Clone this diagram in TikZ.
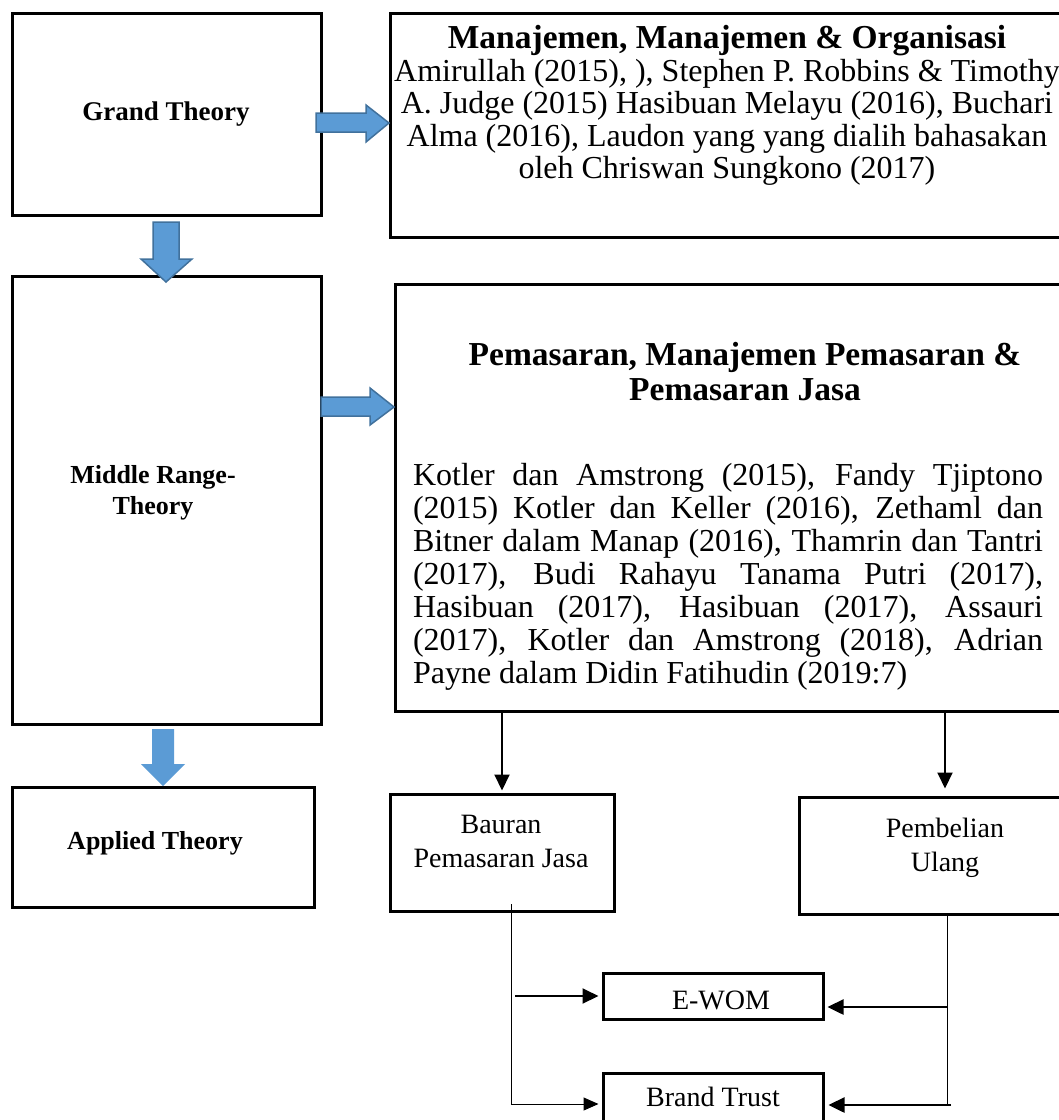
\documentclass[tikz,border=0pt]{standalone}
\usepackage{fontspec}
\setmainfont{Liberation Serif}
\usetikzlibrary{arrows.meta}
\tikzset{every picture/.style={line width=0.75pt}}
\definecolor{arrowblue}{RGB}{91,155,213}
\definecolor{arrowedge}{RGB}{65,113,156}

\begin{document}
\begin{tikzpicture}[x=1pt,y=1pt,yscale=-1,xscale=1,
  box/.style={draw, line width=3pt, rectangle, inner sep=0pt},
  blockarrow/.style={fill=arrowblue, draw=arrowedge, line width=1.5pt, line join=miter},
  link/.style={line width=2pt, -{Triangle[length=16pt,width=15pt]}},
  thinlink/.style={line width=1pt, -{Triangle[length=15pt,width=13pt]}},
  sidelabel/.style={font=\fontsize{26}{31}\selectfont\bfseries, align=center, inner sep=0pt},
  bodytext/.style={font=\fontsize{32}{32.5}\selectfont, inner sep=0pt},
  smalllabel/.style={font=\fontsize{28}{34}\selectfont, align=center, inner sep=0pt}]
\clip (0,0) rectangle (1059,1120);

%Left column boxes
\node[box, minimum width=309pt, minimum height=202pt] (grand) at (166.5,114) {};
\node[box, minimum width=309pt, minimum height=448pt] (middle) at (166.5,500) {};
\node[box, minimum width=302pt, minimum height=120pt] (applied) at (163,847) {};
\node[sidelabel, font=\fontsize{27}{31}\selectfont\bfseries] (grandtext) at (166,114) {Grand Theory};
\node[sidelabel] (middletext) at (153,493) {Middle Range-\\Theory};
\node[sidelabel] (appliedtext) at (155,843) {Applied Theory};

%Right column boxes
\node[box, minimum width=674pt, minimum height=224pt] (manajemen) at (727,125) {};
\node[bodytext, anchor=north, align=center] (manajementext) at (727,25)
  {{\fontsize{33.5}{32.5}\selectfont\bfseries Manajemen, Manajemen \& Organisasi}\\
   Amirullah (2015), ), Stephen P. Robbins \& Timothy\\
   A. Judge (2015) Hasibuan Melayu (2016), Buchari\\
   Alma (2016), Laudon yang yang dialih bahasakan\\
   oleh Chriswan Sungkono (2017)};

\node[box, minimum width=667pt, minimum height=427pt] (pemasaran) at (728.5,497.5) {};
\node[bodytext, anchor=north, align=center, font=\fontsize{33.5}{35}\selectfont\bfseries] (pemasarantitle) at (745,342)
  {Pemasaran, Manajemen Pemasaran \&\\Pemasaran Jasa};
\node[bodytext, anchor=north, text width=630pt, align=justify, font=\fontsize{32}{33}\selectfont] (pemasarantext) at (728,463)
  {Kotler dan Amstrong (2015), Fandy Tjiptono\linebreak
   (2015) Kotler dan Keller (2016), Zethaml dan\linebreak
   Bitner dalam Manap (2016), Thamrin dan Tantri\linebreak
   (2017), Budi Rahayu Tanama Putri (2017),\linebreak
   Hasibuan (2017), Hasibuan (2017), Assauri\linebreak
   (2017), Kotler dan Amstrong (2018), Adrian\linebreak
   Payne dalam Didin Fatihudin (2019:7)};

%Bottom boxes
\node[box, minimum width=224pt, minimum height=117pt] (bauran) at (502,852.5) {};
\node[smalllabel] (baurantext) at (501,841) {Bauran\\Pemasaran Jasa};
\node[box, minimum width=292pt, minimum height=117pt] (pembelian) at (945,855.5) {};
\node[smalllabel] (pembeliantext) at (945,848) {Pembelian\\Ulang};
\node[box, minimum width=220pt, minimum height=46pt] (ewom) at (713,996) {};
\node[smalllabel] (ewomtext) at (721,1000) {E-WOM};
\node[box, minimum width=220pt, minimum height=80pt] (brand) at (713,1113) {};
\node[smalllabel] (brandtext) at (713,1097) {Brand Trust};

%Block arrows
\draw[blockarrow] (316,113) -- (366,113) -- (366,105) -- (389,123) -- (366,142) -- (366,132) -- (316,132) -- cycle;
\draw[blockarrow] (321,397) -- (370,397) -- (370,388) -- (394,407) -- (370,425) -- (370,416) -- (321,416) -- cycle;
\draw[blockarrow] (153,222) -- (179,222) -- (179,259) -- (192,259) -- (166,282) -- (141,259) -- (153,259) -- cycle;
\draw[blockarrow, draw=none] (152,729) -- (174,729) -- (174,764) -- (185,764) -- (163,786) -- (141,764) -- (152,764) -- cycle;

%Connectors
\draw[link, shorten >=2pt] (pemasaran.south -| bauran.north) -- (bauran.north);
\draw[link, shorten >=7pt] (pemasaran.south -| pembelian.north) -- (pembelian.north);

\coordinate (lefttop) at (511,904);
\coordinate (leftbot) at (511,1104);
\coordinate (ewomin) at (515,996);
\coordinate (righttop) at (947,914);
\coordinate (rightbot) at (947,1106);
\coordinate (ewomout) at (947,1007);
\coordinate (brandout) at (951,1105);

\draw[line width=1pt] (lefttop) -- (leftbot);
\draw[line width=1pt] (pembelian.south -| righttop) -- (rightbot);
\draw[link, shorten >=3pt] (ewomin) -- (ewomin -| ewom.west);
\draw[thinlink, shorten >=3pt] (leftbot) -- (leftbot -| brand.west);
\draw[link, line width=2.5pt, shorten >=3pt] (ewomout) -- (ewomout -| ewom.east);
\draw[link, line width=2.5pt, shorten >=4pt] (brandout) -- (brandout -| brand.east);

\end{tikzpicture}
\end{document}
